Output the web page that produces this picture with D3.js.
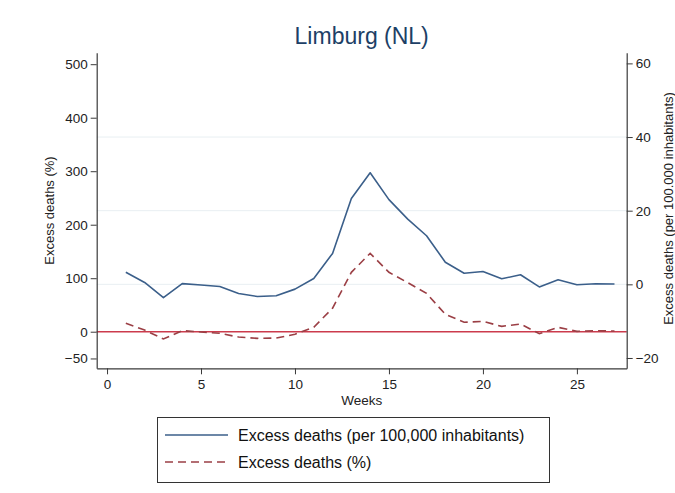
<!DOCTYPE html>
<html><head><meta charset="utf-8">
<script src="https://cdn.jsdelivr.net/npm/d3@7"></script>
<style>body{margin:0;background:#fff}svg{display:block;font-family:"Liberation Sans",Arial,Helvetica,sans-serif}</style>
</head><body><svg id="c" width="675" height="493"></svg>
<script>
const weeks = [1,2,3,4,5,6,7,8,9,10,11,12,13,14,15,16,17,18,19,20,21,22,23,24,25,26,27];
const perCapita = [3.3,0.5,-3.6,0.2,-0.2,-0.6,-2.5,-3.3,-3.1,-1.3,1.6,8.4,23.3,30.3,23,17.7,13.2,6.0,3.0,3.5,1.5,2.6,-0.7,1.25,-0.1,0.16,0.08];
const percent = [15.7,3,-13.6,2,-0.5,-3,-10,-12.4,-11.8,-4.9,8.2,44,111,146.5,111,91.6,71.7,32.5,17.6,19.4,10,14.4,-3.7,8.2,0.7,2,1.3];
const xTicks = [0,5,10,15,20,25];
const leftTicks = [-50,0,100,200,300,400,500];
const rightTicks = [-20,0,20,40,60];
const gridValues = [0,20,40];
const title = "Limburg (NL)";
const legendLabels = ["Excess deaths (per 100,000 inhabitants)","Excess deaths (%)"];

const svg = d3.select("#c");
const L=96.7, R=626.7, T=52.7, B=368.3;
const x = d3.scaleLinear().domain([-0.55,27.65]).range([L,R]);
const yL = d3.scaleLinear().domain([-68.4,521.5]).range([B,T]);
const yR = d3.scaleLinear().domain([-22.8,62.9]).range([B,T]);
const blue="#3b5f8a", maroon="#9b3f45", axisC="#3a3a3a";

// gridlines
svg.append("g").selectAll("line").data(gridValues).join("line")
  .attr("x1",L).attr("x2",R).attr("y1",d=>yR(d)).attr("y2",d=>yR(d))
  .attr("stroke","#e8eff2").attr("stroke-width",1);

// zero ref line
svg.append("line").attr("x1",L).attr("x2",R).attr("y1",yL(0)).attr("y2",yL(0))
  .attr("stroke","#cc3b4c").attr("stroke-width",1.5);

// axes
function styleAxis(g){
  g.select(".domain").attr("stroke",axisC).attr("stroke-width",1.2);
  g.selectAll(".tick line").attr("stroke",axisC);
  g.selectAll(".tick text").attr("fill","#222").attr("font-size",13.5);
}
const ax = svg.append("g").attr("transform",`translate(0,${B})`)
  .call(d3.axisBottom(x).tickValues(xTicks).tickSize(6).tickPadding(5).tickSizeOuter(0));
styleAxis(ax);
const al = svg.append("g").attr("transform",`translate(${L},0)`)
  .call(d3.axisLeft(yL).tickValues(leftTicks).tickSize(6).tickPadding(3).tickSizeOuter(0));
styleAxis(al);
const ar = svg.append("g").attr("transform",`translate(${R},0)`)
  .call(d3.axisRight(yR).tickValues(rightTicks).tickSize(6).tickPadding(3).tickSizeOuter(0));
styleAxis(ar);

// lines
const lineR = d3.line().x((d,i)=>x(weeks[i])).y(d=>yR(d));
const lineL = d3.line().x((d,i)=>x(weeks[i])).y(d=>yL(d));
svg.append("path").datum(perCapita).attr("d",lineR).attr("fill","none")
  .attr("stroke",blue).attr("stroke-width",1.6).attr("stroke-linejoin","round");
svg.append("path").datum(percent).attr("d",lineL).attr("fill","none")
  .attr("stroke",maroon).attr("stroke-width",1.6).attr("stroke-dasharray","8,5");

// title and labels
svg.append("text").attr("x",(L+R)/2).attr("y",43.5).attr("text-anchor","middle")
  .attr("font-size",23).attr("fill","#1d3f66").text(title);
svg.append("text").attr("x",(L+R)/2).attr("y",405).attr("text-anchor","middle")
  .attr("font-size",13.5).attr("fill","#222").text("Weeks");
svg.append("text").attr("transform",`translate(54,${(T+B)/2}) rotate(-90)`).attr("text-anchor","middle")
  .attr("font-size",13).attr("fill","#222").text("Excess deaths (%)");
svg.append("text").attr("transform",`translate(673,${(T+B)/2-2}) rotate(-90)`).attr("text-anchor","middle")
  .attr("font-size",13).attr("fill","#222").text("Excess deaths (per 100.000 inhabitants)");

// legend
const lg = svg.append("g");
lg.append("rect").attr("x",157.5).attr("y",417.5).attr("width",392).attr("height",65)
  .attr("fill","#fff").attr("stroke","#333").attr("stroke-width",1);
const ly=[435,462];
lg.append("line").attr("x1",165).attr("x2",228).attr("y1",ly[0]).attr("y2",ly[0]).attr("stroke",blue).attr("stroke-width",1.6);
lg.append("line").attr("x1",165).attr("x2",228).attr("y1",ly[1]).attr("y2",ly[1]).attr("stroke",maroon).attr("stroke-width",1.6).attr("stroke-dasharray","8,5");
legendLabels.forEach((t,i)=>lg.append("text").attr("x",238).attr("y",ly[i]+5.5).attr("font-size",16).attr("fill","#111").text(t));
</script></body></html>
